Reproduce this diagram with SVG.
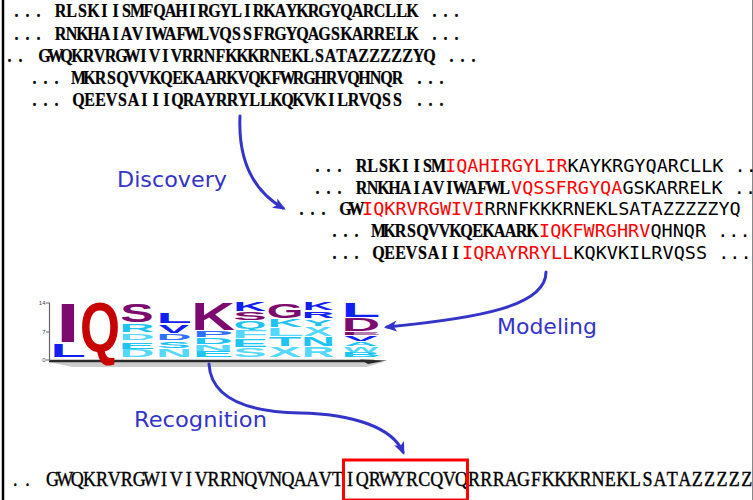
<svg xmlns="http://www.w3.org/2000/svg" width="753" height="500" viewBox="0 0 753 500">
<style>
.cb{font-family:"Liberation Serif","Times New Roman",serif;font-weight:bold;font-size:18.2px;fill:#000;stroke:#000;stroke-width:0.25;text-anchor:middle}
.sm{font-family:"DejaVu Sans Mono",monospace;font-weight:normal;font-size:18.5px}
.red{fill:#ff0000}
.blk{fill:#000}
.seq{font-family:"Liberation Serif","Times New Roman",serif;font-size:20.4px;fill:#000;stroke:#000;stroke-width:0.4;text-anchor:middle}
.lbl{font-family:"DejaVu Sans","Noto Sans",sans-serif;font-size:22px;fill:#3434c8}
.lg{font-family:"Liberation Sans",Arial,sans-serif;font-weight:bold;font-size:10px;text-anchor:middle}
.pu{fill:#7d0a6e}.bl{fill:#1020f0}.cy{fill:#20c4f4}.lc{fill:#55d8ff}.rd{fill:#c80000}.mb{fill:#3070ff}
.ax{font-family:"Liberation Sans",Arial,sans-serif;font-size:6px;fill:#444;text-anchor:end}
.conn{fill:none;stroke:#3434c8;stroke-width:3;stroke-linecap:round}
</style>
<defs>
<marker id="ah" viewBox="0 0 12 10" refX="9" refY="5" markerWidth="13" markerHeight="11" markerUnits="userSpaceOnUse" orient="auto">
<path d="M0,0 L12,5 L0,10 L3,5 z" fill="#3434c8"/>
</marker>
</defs>
<rect x="0" y="0" width="753" height="500" fill="#fff"/>
<line x1="3" y1="0" x2="3" y2="500" stroke="#000" stroke-width="2.5"/>
<line x1="752.5" y1="0" x2="752.5" y2="500" stroke="#888" stroke-width="1"/>

<g id="raw-sequences">
<g transform="translate(16.5,17) scale(0.88,1)"><text class="cb" y="0" x="0 12.5 25 37.5 50 62.5 75 87.5 100 112.5 125 137.5 150 162.5 175 187.5 200 212.5 225 237.5 250 262.5 275 287.5 300 312.5 325 337.5 350 362.5 375 387.5 400 412.5 425 437.5 450 462.5 475 487.5 500 512.5 525 537.5 550">... RLSKIISMFQAHIRGYLIRKAYKRGYQARCLLK ...</text></g>
<g transform="translate(16.5,39.5) scale(0.88,1)"><text class="cb" y="0" x="0 12.5 25 37.5 50 62.5 75 87.5 100 112.5 125 137.5 150 162.5 175 187.5 200 212.5 225 237.5 250 262.5 275 287.5 300 312.5 325 337.5 350 362.5 375 387.5 400 412.5 425 437.5 450 462.5 475 487.5 500 512.5 525 537.5 550">... RNKHAIAVIWAFWLVQSSFRGYQAGSKARRELK ...</text></g>
<g transform="translate(9.5,61.5) scale(0.88,1)"><text class="cb" y="0" x="0 12.5 39.75 52.25 64.75 77.25 89.75 102.25 114.75 127.25 139.75 152.25 164.75 177.25 189.75 202.25 214.75 227.25 239.75 252.25 264.75 277.25 289.75 302.25 314.75 327.25 339.75 352.25 364.75 377.25 389.75 402.25 414.75 427.25 439.75 452.25 464.75 477.25 489.75 502.25 514.75 527.25 539.75 552.25">..GWQKRVRGWIVIVRRNFKKKRNEKLSATAZZZZZYQ ...</text></g>
<g transform="translate(34.5,83.5) scale(0.88,1)"><text class="cb" y="0" x="0 12.5 25 37.5 50 62.5 75 87.5 100 112.5 125 137.5 150 162.5 175 187.5 200 212.5 225 237.5 250 262.5 275 287.5 300 312.5 325 337.5 350 362.5 375 387.5 400 412.5 425 437.5 450 462.5 475 487.5 500 512.5 525 537.5 550">... MKRSQVVKQEKAARKVQKFWRGHRVQHNQR ...</text></g>
<g transform="translate(34.5,105.5) scale(0.88,1)"><text class="cb" y="0" x="0 12.5 25 37.5 50 62.5 75 87.5 100 112.5 125 137.5 150 162.5 175 187.5 200 212.5 225 237.5 250 262.5 275 287.5 300 312.5 325 337.5 350 362.5 375 387.5 400 412.5 425 437.5 450 462.5 475 487.5 500 512.5 525 537.5 550">... QEEVSAIIIQRAYRRYLLKQKVKILRVQSS ...</text></g>
</g>

<g id="discovered-motifs">
<g transform="translate(317.5,172) scale(0.88,1)"><text class="cb" y="0" x="0 12.5 25 37.5 50 62.5 75 87.5 100 112.5 125 137.5 150 162.5 175 187.5 200 212.5 225 237.5">... RLSKIISM</text></g>
<text class="sm red" x="445" y="172">IQAHIRGYLIR<tspan class="blk">KAYKRGYQARCLLK ..</tspan></text>
<g transform="translate(317.5,193.5) scale(0.88,1)"><text class="cb" y="0" x="0 12.5 25 37.5 50 62.5 75 87.5 100 112.5 125 137.5 150 162.5 175 187.5 200 212.5 225 237.5">... RNKHAIAVIWAFWL</text></g>
<text class="sm red" x="511" y="193.5">VQSSFRGYQA<tspan class="blk">GSKARRELK ..</tspan></text>
<g transform="translate(301.5,215) scale(0.88,1)"><text class="cb" y="0" x="0 12.5 25 37.5 50 62.5 75 87.5 100 112.5">... GW</text></g>
<text class="sm red" x="362" y="215">IQKRVRGWIVI<tspan class="blk">RRNFKKKRNEKLSATAZZZZZYQ</tspan></text>
<g transform="translate(334.5,237) scale(0.88,1)"><text class="cb" y="0" x="0 12.5 25 37.5 50 62.5 75 87.5 100 112.5 125 137.5 150 162.5 175 187.5 200 212.5 225 237.5">... MKRSQVVKQEKAARK</text></g>
<text class="sm red" x="539" y="237">IQKFWRGHRV<tspan class="blk">QHNQR ...</tspan></text>
<g transform="translate(334.5,259) scale(0.88,1)"><text class="cb" y="0" x="0 12.5 25 37.5 50 62.5 75 87.5 100 112.5 125 137.5 150 162.5 175 187.5 200 212.5 225 237.5">... QEEVSAII</text></g>
<text class="sm red" x="462" y="259">IQRAYRRYLL<tspan class="blk">KQKVKILRVQSS ...</tspan></text>
</g>

<g id="sequence-logo">
<polygon points="49,362 384,362 366,367 72,367" fill="#aaa" opacity="0.6"/>
<line x1="49" y1="361" x2="374" y2="361" stroke="#2a2a2a" stroke-width="2.5"/>
<polygon points="360,359.5 387,360.5 368,364" fill="#2a2a2a"/>
<line x1="49.5" y1="303" x2="49.5" y2="361" stroke="#666" stroke-width="1.2"/>
<line x1="46" y1="303" x2="50" y2="303" stroke="#666" stroke-width="1"/>
<line x1="46" y1="332" x2="50" y2="332" stroke="#666" stroke-width="1"/>
<line x1="46" y1="360" x2="50" y2="360" stroke="#666" stroke-width="1"/>
<text class="ax" x="45.5" y="305">14</text>
<text class="ax" x="45.5" y="334">7</text>
<text class="ax" x="45.5" y="362">0</text>

<text class="lg pu" transform="translate(68,342) scale(8.57,5.587)">I</text>
<text class="lg bl" transform="translate(68,357) scale(5.77,1.816)">L</text>
<text class="lg rd" transform="translate(100,352) scale(5.14,6.98)">Q</text>

<text class="lg pu" transform="translate(137,322) scale(5.0,2.51)">S</text>
<text class="lg cy" transform="translate(137,332) scale(4.84,1.117)">R</text>
<text class="lg lc" transform="translate(137,340) scale(4.84,0.978)">D</text>
<text class="lg cy" transform="translate(137,348.5) scale(5.45,0.978)">E</text>
<text class="lg lc" transform="translate(137,357) scale(4.84,1.047)">D</text>

<text class="lg bl" transform="translate(174,323) scale(5.77,1.397)">L</text>
<text class="lg bl" transform="translate(174,333) scale(4.55,1.117)">V</text>
<text class="lg mb" transform="translate(174,340) scale(4.84,0.838)">D</text>
<text class="lg cy" transform="translate(174,348) scale(5.0,0.978)">S</text>
<text class="lg lc" transform="translate(174,357) scale(5.0,1.117)">N</text>

<text class="lg pu" transform="translate(213,330) scale(6.06,3.91)">K</text>
<text class="lg mb" transform="translate(213,337) scale(6.07,0.838)">P</text>
<text class="lg cy" transform="translate(213,344) scale(5.48,0.838)">D</text>
<text class="lg lc" transform="translate(213,350.5) scale(5.67,0.838)">N</text>
<text class="lg cy" transform="translate(213,357) scale(6.18,0.838)">E</text>

<text class="lg bl" transform="translate(250,311) scale(4.55,1.257)">K</text>
<text class="lg pu" transform="translate(250,320) scale(5.0,1.117)">S</text>
<text class="lg cy" transform="translate(250,329) scale(4.17,1.117)">Q</text>
<text class="lg lc" transform="translate(250,337.5) scale(6.0,1.047)">F</text>
<text class="lg cy" transform="translate(250,347) scale(5.45,1.117)">E</text>
<text class="lg lc" transform="translate(250,357) scale(5.0,1.257)">S</text>

<text class="lg pu" transform="translate(285,318) scale(4.71,1.955)">G</text>
<text class="lg cy" transform="translate(285,327) scale(4.85,1.117)">K</text>
<text class="lg lc" transform="translate(285,336) scale(6.15,1.117)">L</text>
<text class="lg cy" transform="translate(285,346) scale(5.33,1.257)">T</text>
<text class="lg lc" transform="translate(285,357) scale(4.85,1.397)">X</text>

<text class="lg bl" transform="translate(318,310) scale(4.24,1.117)">K</text>
<text class="lg bl" transform="translate(318,318) scale(4.52,0.978)">R</text>
<text class="lg cy" transform="translate(318,326) scale(4.24,0.978)">Y</text>
<text class="lg lc" transform="translate(318,335.5) scale(4.24,1.187)">X</text>
<text class="lg cy" transform="translate(318,346) scale(4.67,1.257)">N</text>
<text class="lg lc" transform="translate(318,357) scale(4.52,1.397)">R</text>

<text class="lg bl" transform="translate(361,317) scale(6.35,2.095)">L</text>
<text class="lg pu" transform="translate(361,331) scale(5.32,1.816)">D</text>
<text class="lg pu" transform="translate(361,335) scale(6.0,0.419)">E</text>
<text class="lg bl" transform="translate(361,341) scale(5.0,0.768)">V</text>
<text class="lg cy" transform="translate(361,346) scale(4.71,0.628)">A</text>
<text class="lg lc" transform="translate(361,351.5) scale(3.67,0.698)">W</text>
<text class="lg cy" transform="translate(361,357) scale(5.5,0.698)">B</text>
</g>

<g id="target-sequence">
<g transform="translate(15.2,486) scale(0.8857,1)"><text class="seq" y="0" x="0 14 28 42 56 70 84 98 112 126 140 154 168 182 196 210 224 238 252 266 280 294 308 322 336 350 364 378 392 406 420 434 448 462 476 490 504 518 532 546 560 574 588 602 616 630 644 658 672 686 700 714 728 742 756 770 784 798 812 826">.. GWQKRVRGWIVIVRRNQVNQAAVTIQRWYRCQVQRRRAGFKKKRNEKLSATAZZZZZ</text></g>
<rect x="343.5" y="460" width="124" height="40" fill="none" stroke="#ff0000" stroke-width="3"/>
</g>

<g id="connectors">
<path class="conn" d="M240,116 C238,160 252,190 283,208" marker-end="url(#ah)"/>
<path class="conn" d="M546,272 C546,306 480,318 387,327" marker-end="url(#ah)"/>
<path class="conn" d="M209,364 C211,400 250,412 300,413 C352,414 392,427 403,452" marker-end="url(#ah)"/>
</g>

<g id="labels">
<text class="lbl" x="117" y="187" textLength="110" lengthAdjust="spacingAndGlyphs">Discovery</text>
<text class="lbl" x="497" y="334" textLength="100" lengthAdjust="spacingAndGlyphs">Modeling</text>
<text class="lbl" x="134" y="427" textLength="133" lengthAdjust="spacingAndGlyphs">Recognition</text>
</g>
</svg>
